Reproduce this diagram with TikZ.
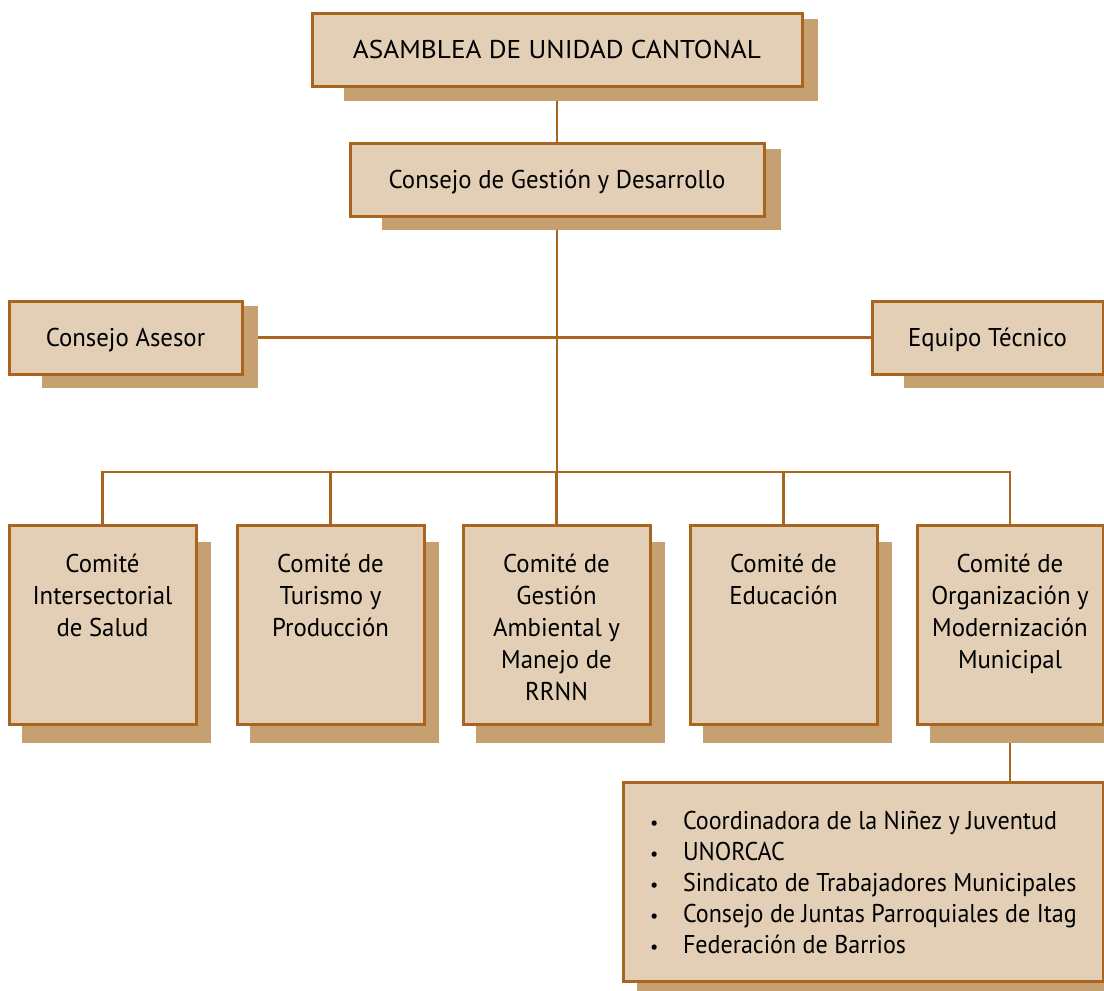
\documentclass[tikz,border=0pt]{standalone}
\usepackage{fontspec}
\usepackage{graphicx}
\setmainfont[FakeStretch=0.965]{PT Sans}
\definecolor{boxf}{HTML}{E2CFB5}
\definecolor{brd}{HTML}{A8651F}
\definecolor{shadc}{HTML}{C7A071}
\newcommand\orgfont{\fontsize{25.7pt}{32pt}\selectfont}
\newcommand\cmtext[1]{\parbox[c][199pt][t]{180pt}{\centering\rule{0pt}{47pt}#1\par}}
\newcommand\litem[1]{\hspace*{22pt}\makebox[33pt][l]{\fontsize{19pt}{19pt}\selectfont •}\scalebox{0.97}[1]{#1}}
\pgfdeclarelayer{lines}
\pgfdeclarelayer{shadows}
\pgfsetlayers{lines,shadows,main}
\tikzset{
  orgbox/.style={draw=brd, fill=boxf, line width=3pt, inner sep=0pt, outer sep=0pt,
    anchor=north west, font=\orgfont, text=black},
  single/.style={orgbox, text height=18pt, text depth=0pt, minimum height=73pt},
  comite/.style={orgbox, minimum width=187pt, minimum height=199pt},
  conn/.style={draw=brd, line width=2.2pt},
  shad/.style={fill=shadc},
}
\newcommand\shadowof[5]{\fill[shad] ([xshift=#2,yshift=#3]#1.north west) rectangle ([xshift=#4,yshift=#5]#1.south east);}
\begin{document}
\begin{tikzpicture}[x=1pt,y=-1pt]
\useasboundingbox (0,0) rectangle (1104,991);
% boxes
\node[single, minimum width=490pt] (asm) at (312,13) {\scalebox{1.1}[1]{ASAMBLEA DE UNIDAD CANTONAL}};
\node[single, minimum width=414pt] (cgd) at (350,143) {Consejo de Gestión y Desarrollo};
\node[single, minimum width=233pt] (ca) at (9,301) {Consejo Asesor};
\node[single, minimum width=231pt] (et) at (872,301) {Equipo Técnico};
\node[comite] (c1) at (9,525) {\cmtext{Comité\\Intersectorial\\de Salud}};
\node[comite] (c2) at (237,525) {\cmtext{Comité de\\Turismo y\\Producción}};
\node[comite] (c3) at (463,525) {\cmtext{Comité de\\Gestión\\Ambiental y\\Manejo de\\RRNN}};
\node[comite] (c4) at (690,525) {\cmtext{Comité de\\Educación}};
\node[comite, minimum width=186pt] (c5) at (917,525) {\cmtext{Comité de\\Organización y\\Modernización\\Municipal}};
\node[orgbox, minimum width=480pt, minimum height=199pt] (lst) at (623,782) {\parbox[c][199pt][t]{470pt}{\raggedright\rule{0pt}{47pt}%
\litem{Coordinadora de la Niñez y Juventud}\\[-1pt]
\litem{UNORCAC}\\[-1pt]
\litem{Sindicato de Trabajadores Municipales}\\[-1pt]
\litem{Consejo de Juntas Parroquiales de Itag}\\[-1pt]
\litem{Federación de Barrios}\par}};
% shadows
\begin{pgfonlayer}{shadows}
\shadowof{asm}{32pt}{-6pt}{16pt}{-15pt}
\shadowof{cgd}{32pt}{-6pt}{17pt}{-14pt}
\shadowof{ca}{33pt}{-5pt}{16pt}{-14pt}
\shadowof{et}{32pt}{-5pt}{16pt}{-14pt}
\foreach \c in {c1,c2,c3,c4,c5}{\shadowof{\c}{13pt}{-17pt}{15pt}{-19pt}}
\shadowof{lst}{14pt}{-17pt}{15pt}{-19pt}
\end{pgfonlayer}
% connectors
\begin{pgfonlayer}{lines}
\coordinate (bus) at (557,472);
\draw[conn] (asm) -- (cgd);
\draw[conn] (cgd.south) -- (bus);
\draw[conn] (ca.east) -- (et.west);
\draw[conn] (c1.north) -- (c1.north |- bus) -- (c5.north |- bus) -- (c5.north);
\foreach \c in {c2,c3,c4}{\draw[conn] (\c.north) -- (\c.north |- bus);}
\draw[conn] (c5.south) -- (c5.south |- lst.north);
\end{pgfonlayer}
\end{tikzpicture}
\end{document}
